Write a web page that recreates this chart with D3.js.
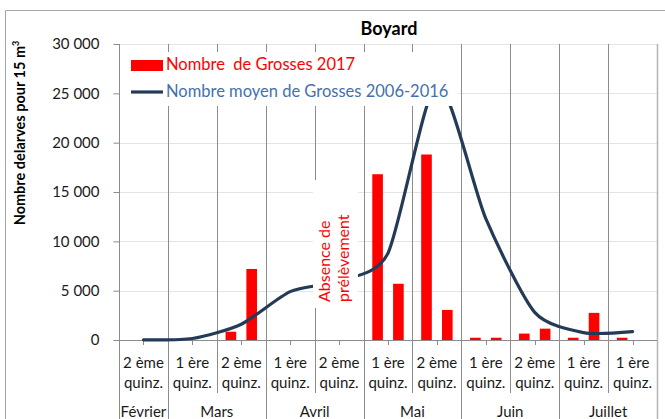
<!DOCTYPE html>
<html>
<head>
<meta charset="utf-8">
<script src="https://cdn.jsdelivr.net/npm/d3@7"></script>
<style>
  body { margin: 0; background: #fff; }
  svg { font-family: Lato, "Open Sans", sans-serif; }
</style>
</head>
<body>
<svg id="chart" width="665" height="419"></svg>
<script>
// half-month periods on the x axis
const periodes = ["2 ème quinz.", "1 ère quinz.", "2 ème quinz.", "1 ère quinz.", "2 ème quinz.",
  "1 ère quinz.", "2 ème quinz.", "1 ère quinz.", "2 ème quinz.", "1 ère quinz.", "1 ère quinz."]
const mois = ["Février", "Mars", "Mars", "Avril", "Avril", "Mai", "Mai", "Juin", "Juin", "Juillet", "Juillet"]

// 2017 samples, two per period (null = no sample)
const grosses2017 = [0, 0, 0, 0, 840, 7200, 0, 0, null, null,
  16800, 5700, 18800, 3050, 230, 230, 650, 1150, 230, 2750, 230, 0]

// mean 2006-2016, one value per period
const moyenne = [20, 150, 1600, 4900, 6000, 8800, 26000, 12300, 2800, 750, 850]

const yTicks = [0, 5000, 10000, 15000, 20000, 25000, 30000]

const svg = d3.select('#chart')
const plotLeft = 119, plotRight = 657, plotTop = 44, plotBottom = 340

const fr = d3.formatLocale({ decimal: ',', thousands: '\u00a0', grouping: [3], currency: ['', '€'] })
const fmt = fr.format(',d')

const x0 = d3.scaleBand().domain(d3.range(periodes.length)).range([plotLeft, plotRight])
const x1 = d3.scaleBand().domain([0, 1]).range([0, x0.bandwidth()]).paddingInner(0.49).paddingOuter(0.42)
const y = d3.scaleLinear().domain([0, 30000]).range([plotBottom, plotTop])
const mid = i => x0(i) + x0.bandwidth() / 2

// chart border
svg.append('path')
  .attr('d', 'M5.5,419 V10.5 H665')
  .attr('fill', 'none')
  .attr('stroke', '#a6a6a6')

// title
svg.append('text')
  .attr('x', 389).attr('y', 35)
  .attr('text-anchor', 'middle')
  .attr('font-size', 18).attr('font-weight', 'bold')
  .text('Boyard')

// horizontal grid
svg.selectAll('.hgrid')
  .data(yTicks.filter(d => d > 0))
  .enter()
  .append('line')
  .attr('x1', plotLeft).attr('x2', plotRight)
  .attr('y1', d => Math.round(y(d)) + 0.5)
  .attr('y2', d => Math.round(y(d)) + 0.5)
  .attr('stroke', '#e4e4e4')

// vertical grid at period boundaries, continuing into the label area
const bounds = d3.range(periodes.length + 1)
const bx = i => Math.round(i < periodes.length ? x0(i) : plotRight) + 0.5
svg.selectAll('.vgrid')
  .data(bounds)
  .enter()
  .append('line')
  .attr('x1', bx)
  .attr('x2', bx)
  .attr('y1', plotTop)
  .attr('y2', i => (i === 0 || i === periodes.length || mois[i] !== mois[i - 1]) ? 419 : 393)
  .attr('stroke', i => i === periodes.length ? '#b4b4b4' : '#8c8c8c')
  .attr('stroke-width', i => i === periodes.length ? 1.5 : 1)

// x axis line + ticks at period centres
svg.append('line')
  .attr('x1', plotLeft).attr('x2', plotRight)
  .attr('y1', plotBottom + 0.5).attr('y2', plotBottom + 0.5)
  .attr('stroke', '#8c8c8c')
svg.selectAll('.xtick')
  .data(d3.range(periodes.length))
  .enter()
  .append('line')
  .attr('x1', i => Math.round(mid(i)) + 0.5)
  .attr('x2', i => Math.round(mid(i)) + 0.5)
  .attr('y1', plotBottom).attr('y2', plotBottom + 5)
  .attr('stroke', '#8c8c8c')

// y axis
const yAxis = svg.append('g')
  .attr('transform', `translate(${plotLeft + 0.5},0)`)
  .call(d3.axisLeft(y).tickValues(yTicks).tickFormat(fmt).tickSize(6).tickPadding(14))
yAxis.select('.domain').attr('stroke', '#8c8c8c').attr('d', `M0,${plotTop}V419`)
yAxis.selectAll('.tick line').attr('stroke', '#8c8c8c')
yAxis.selectAll('.tick text')
  .attr('font-size', 15)
  .attr('font-family', 'Lato, sans-serif')
  .attr('fill', '#1a1a1a')

// y title
const yTitle = svg.append('text')
  .attr('transform', 'translate(25,133) rotate(-90)')
  .attr('text-anchor', 'middle')
  .attr('font-size', 14.5).attr('font-weight', 'bold')
yTitle.append('tspan').text('Nombre delarves pour 15 m')
yTitle.append('tspan').attr('font-size', 9).attr('dy', -6).text('3')

// bars
svg.selectAll('.bar')
  .data(grosses2017.map((v, k) => ({ v, g: Math.floor(k / 2), s: k % 2 })).filter(d => d.v))
  .enter()
  .append('rect')
  .classed('bar', true)
  .attr('x', d => x0(d.g) + x1(d.s))
  .attr('width', x1.bandwidth())
  .attr('y', d => y(d.v))
  .attr('height', d => plotBottom - y(d.v))
  .attr('fill', '#ff0000')

// mean line
const line = d3.line()
  .x((d, i) => mid(i))
  .y(d => y(d))
  .curve(d3.curveCardinal.tension(0.3))
svg.append('path')
  .datum(moyenne)
  .attr('d', line)
  .attr('fill', 'none')
  .attr('stroke', '#243b58')
  .attr('stroke-width', 3.2)
  .attr('stroke-linecap', 'round')

// period labels
const lab = svg.selectAll('.plabel')
  .data(periodes)
  .enter()
  .append('text')
  .attr('text-anchor', 'middle')
  .attr('font-size', 15)
  .attr('fill', '#1a1a1a')
lab.append('tspan').attr('x', (d, i) => mid(i)).attr('y', 368).text(d => d.split(' quinz.')[0])
lab.append('tspan').attr('x', (d, i) => mid(i)).attr('y', 388).text('quinz.')

// month labels centred on their periods
const moisUniques = Array.from(new Set(mois))
svg.selectAll('.mlabel')
  .data(moisUniques)
  .enter()
  .append('text')
  .attr('x', m => {
    const idx = mois.map((d, i) => d === m ? i : -1).filter(i => i >= 0)
    return (mid(idx[0]) + mid(idx[idx.length - 1])) / 2
  })
  .attr('y', 417)
  .attr('text-anchor', 'middle')
  .attr('font-size', 15)
  .attr('fill', '#1a1a1a')
  .text(m => m)

// note box "Absence de prélèvement"
svg.append('rect')
  .attr('x', 313).attr('y', 180).attr('width', 45).attr('height', 128)
  .attr('fill', '#fff')
svg.append('text')
  .attr('transform', 'translate(330,302) rotate(-90)')
  .attr('font-size', 16).attr('fill', '#ff0000')
  .text('Absence de')
svg.append('text')
  .attr('transform', 'translate(349,302) rotate(-90)')
  .attr('font-size', 16).attr('fill', '#ff0000')
  .text('prélèvement')

// legend
svg.append('rect')
  .attr('x', 120).attr('y', 52).attr('width', 338).attr('height', 54)
  .attr('fill', '#fff')
svg.append('rect')
  .attr('x', 131).attr('y', 60).attr('width', 32).attr('height', 11)
  .attr('fill', '#ff0000')
svg.append('text')
  .attr('x', 166).attr('y', 70)
  .attr('font-size', 16.5).attr('fill', '#ff0000')
  .attr('xml:space', 'preserve')
  .text('Nombre  de Grosses 2017')
svg.append('line')
  .attr('x1', 131).attr('x2', 163).attr('y1', 92).attr('y2', 92)
  .attr('stroke', '#243b58').attr('stroke-width', 3.2)
svg.append('text')
  .attr('x', 166).attr('y', 97)
  .attr('font-size', 16.5).attr('fill', '#4471ad')
  .text('Nombre moyen de Grosses 2006-2016')
</script>
</body>
</html>
